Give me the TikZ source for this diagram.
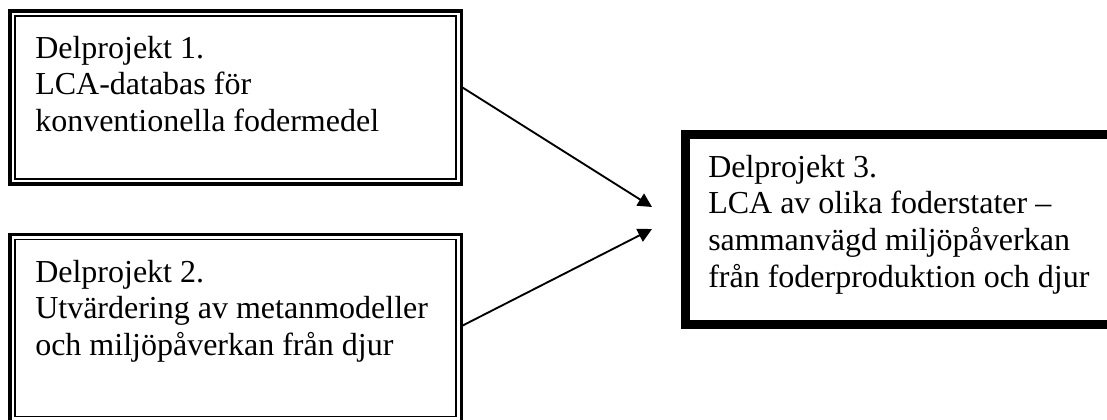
\documentclass[tikz,border=0pt]{standalone}
\usepackage{fontspec}
\setmainfont{Liberation Serif}
\usetikzlibrary{arrows.meta}

\tikzset{
  box/.style={draw, line width=2.6pt, outer sep=0pt, inner sep=0pt},
  innerline/.style={line width=1.1pt},
  txt/.style={anchor=base west, align=left, inner sep=0pt, font=\fontsize{24pt}{27.6pt}\selectfont},
  conn/.style={-{Triangle[length=10.5pt,width=10.5pt]}, line width=1.4pt}
}

\begin{document}
\begin{tikzpicture}[x=0.75pt,y=-0.75pt]
            \clip (0,0) rectangle (1107,419);

            % the two part projects on the left
            \node[box, minimum width=338.9pt, minimum height=130pt] (b1) at (235.75,97.5) {};
            \draw[innerline] ([shift={(5.3,5.3)}]b1.north west) rectangle ([shift={(-5.8,-5.3)}]b1.south east);
            \node[box, minimum width=338.9pt, minimum height=140.8pt] (b2) at (235.75,328.15) {};
            \draw[innerline] ([shift={(5.3,5.3)}]b2.north west) rectangle ([shift={(-5.8,-5.3)}]b2.south east);

            % the joint project on the right
            \node[box, line width=6.75pt, minimum width=320.25pt, minimum height=142.5pt] (b3) at (898.5,229.5) {};

            % texts, placed at the baseline of their last line
            \node[txt] (p1) at (35,131.6) {Delprojekt 1.\\LCA-databas för\\konventionella fodermedel};
            \node[txt] (p2) at (35,355.6) {Delprojekt 2.\\Utvärdering av metanmodeller\\och miljöpåverkan från djur};
            \node[txt] (p3) at (708,287.4) {Delprojekt 3.\\LCA av olika foderstater –\\sammanvägd miljöpåverkan\\från foderproduktion och djur};

            \coordinate (t1) at (652,207);
            \coordinate (t2) at (652,229);
            \draw[conn] ([yshift=7.9pt]b1.east) -- (t1);
            \draw[conn] ([yshift=1.6pt]b2.east) -- (t2);
\end{tikzpicture}
\end{document}
